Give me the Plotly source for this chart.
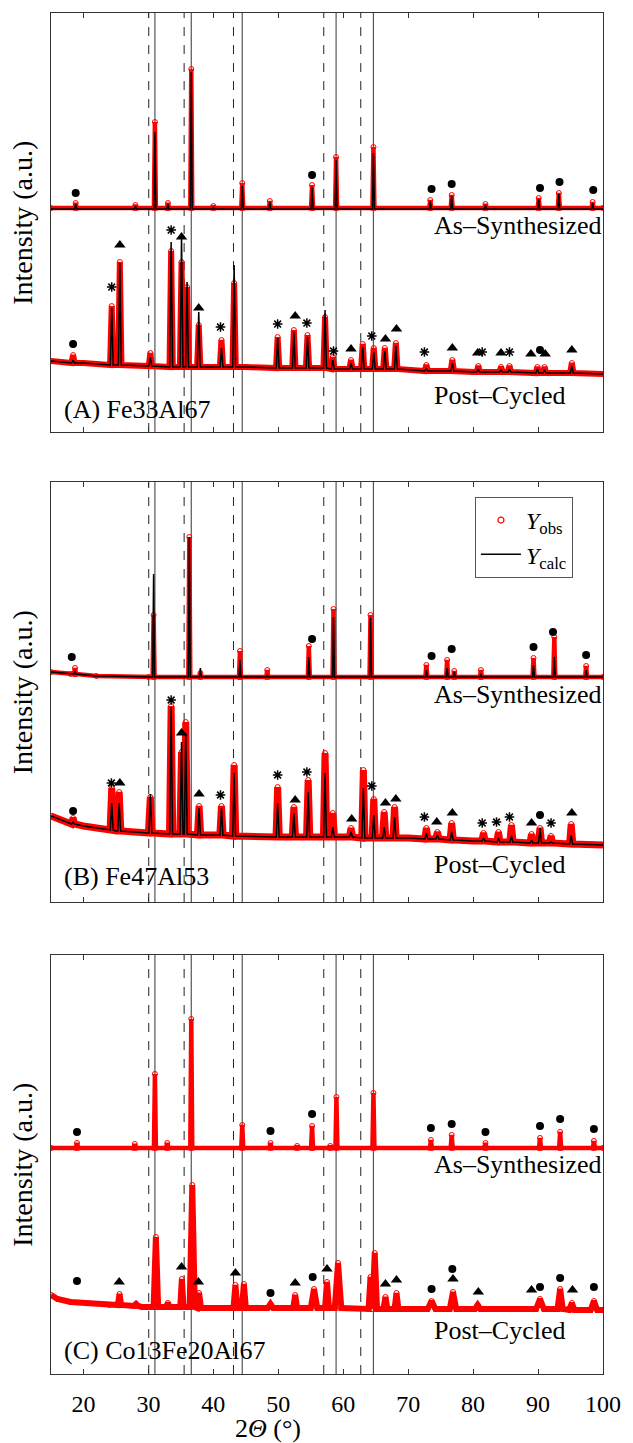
import plotly.graph_objects as go

# ---------------- data ----------------
# reference lines (2-theta, degrees)
ref_dashed = [30.05, 35.5, 43.1, 57.0, 62.7]
ref_solid = [31.0, 36.6, 44.45, 58.9, 64.65]

# ---- Panel A : Fe33Al67 ----
A_syn_bg_x = [15, 100]
A_syn_bg_y = [224, 224]
A_syn_pk_x = [18.8, 28.0, 31.0, 33.0, 36.6, 40.0, 44.45, 48.7, 55.2, 58.9, 64.65, 73.4, 76.7, 81.9, 90.1, 93.2, 98.4]
A_syn_obs = [229, 227, 310, 229, 363, 226, 249, 231, 247, 275, 285, 232, 237, 228, 234, 239, 230]
A_syn_calc = [228, 226, 300, 228, 360, 225, 246, 230, 245, 272, 279, 231, 236, 227, 233, 238, 229]
A_syn_base = 224

A_post_bg_x = [15, 20, 30, 45, 60, 80, 100]
A_post_bg_y = [71, 69, 66, 65, 63, 60, 58]
A_post_pk_x = [18.4, 24.35, 25.6, 30.3, 33.5, 35.1, 35.95, 37.75, 41.25, 43.2, 49.9, 52.4, 54.5, 57.2, 58.4,
               61.2, 63.0, 64.7, 66.4, 68.1, 72.8, 76.8, 80.8, 84.3, 85.6, 89.9, 91.0, 95.2]
A_post_obs = [77, 126, 170, 79, 181, 170, 145, 107, 92, 149, 95, 102, 97, 115, 75,
              72, 88, 84, 84, 89, 67, 72, 66, 65, 66, 65, 65, 69]
A_post_calc = [72, 124, 169, 75, 190, 196, 150, 120, 84, 167, 94, 100, 95, 122, 72,
               69, 85, 80, 81, 86, 64, 69, 63, 62, 63, 63, 62, 66]
A_post_base = [69, 67, 67, 66, 65, 65, 65, 65, 65, 65, 64, 64, 64, 64, 63,
               63, 63, 63, 63, 63, 61, 61, 60, 60, 60, 59, 59, 59]

A_circ_x = [18.8, 55.2, 73.6, 76.7, 90.3, 93.3, 98.5, 18.4, 90.3]
A_circ_y = [239, 257, 243, 248, 244, 250, 242, 88, 82]
A_tri_x = [25.6, 35.1, 37.75, 52.6, 61.2, 66.5, 68.2, 76.8, 80.7, 84.3, 88.9, 91.1, 95.2]
A_tri_y = [187, 195, 124, 116, 83, 93, 103, 84, 79, 79, 78, 78, 82]
A_ast_x = [24.35, 33.5, 41.1, 49.9, 54.4, 58.5, 64.4, 72.5, 81.4, 85.6]
A_ast_y = [145, 202, 105, 108, 109, 81, 96, 80, 80, 80]

# ---- Panel B : Fe47Al53 ----
B_syn_bg_x = [15, 18, 22, 30, 100]
B_syn_bg_y = [230, 228, 226, 225, 225]
B_syn_pk_x = [18.7, 30.8, 36.3, 38.0, 44.1, 48.3, 54.7, 58.5, 64.2, 72.8, 76.0, 77.1, 81.2, 89.3, 92.5, 97.4]
B_syn_obs = [234, 287, 365, 229, 251, 232, 256, 293, 287, 237, 242, 231, 232, 244, 265, 236]
B_syn_calc = [231, 328, 365, 234, 242, 227, 245, 285, 284, 232, 234, 230, 228, 237, 245, 232]
B_syn_base = [228, 225, 225, 225, 225, 225, 225, 225, 225, 225, 225, 225, 225, 225, 225, 225]

B_post_bg_x = [15, 17, 20, 25, 30, 40, 50, 60, 70, 80, 90, 100]
B_post_bg_y = [86, 81, 76, 71, 69, 67, 65, 65, 64, 61, 59, 57]
B_post_pk_x = [18.4, 24.35, 25.5, 30.3, 33.5, 35.1, 35.75, 37.8, 41.25, 43.2, 49.9, 52.4, 54.6, 57.2, 58.4,
               61.2, 63.1, 64.7, 66.3, 67.9, 72.8, 74.5, 76.7, 81.6, 83.9, 85.9, 89.0, 90.3, 92.0, 95.1]
B_post_obs = [84, 114, 110, 105, 196, 150, 180, 96, 96, 137, 115, 95, 122, 149, 89,
              74, 132, 103, 90, 95, 74, 70, 79, 69, 70, 77, 68, 74, 66, 78]
B_post_calc = [80, 99, 99, 108, 195, 160, 169, 94, 94, 129, 99, 89, 110, 129, 75,
               70, 114, 87, 75, 85, 69, 67, 70, 64, 64, 66, 62, 74, 60, 67]
B_post_base = [78, 72, 71, 69, 68, 68, 68, 67, 67, 66, 65, 65, 65, 65, 65,
               65, 64, 64, 64, 64, 63, 63, 62, 61, 60, 60, 59, 59, 59, 58]

B_circ_x = [18.2, 55.2, 73.6, 76.7, 89.3, 92.3, 97.4, 18.4, 90.3]
B_circ_y = [245, 263, 246, 253, 255, 270, 247, 91, 87]
B_tri_x = [25.6, 35.1, 37.8, 52.6, 61.3, 66.5, 68.1, 74.4, 76.8, 89.0, 95.2]
B_tri_y = [119, 169, 108, 102, 83, 99, 103, 80, 89, 79, 89]
B_ast_x = [24.3, 33.5, 41.1, 49.9, 54.4, 64.4, 72.5, 81.4, 83.6, 85.6, 92.0]
B_ast_y = [119, 202, 107, 127, 130, 116, 85, 79, 80, 85, 79]

# ---- Panel C : Co13Fe20Al67 ----
C_syn_bg_x = [15, 100]
C_syn_bg_y = [226, 226]
C_syn_pk_x = [19.0, 27.9, 31.0, 32.9, 36.6, 44.45, 48.8, 52.9, 55.2, 58.0, 58.95, 64.65, 73.5, 76.7, 81.9, 90.3, 93.4, 98.6]
C_syn_obs = [231, 230, 300, 231, 355, 249, 231, 228, 248, 228, 277, 281, 234, 239, 231, 236, 242, 233]
C_syn_base = 226

C_post_bg_x = [15, 16, 18, 24, 29, 34, 40, 50, 60, 70, 80, 90, 100]
C_post_bg_y = [79, 75, 72, 69, 67, 67, 66, 66, 66, 65, 65, 65, 64]
C_post_pk_x = [25.55, 28.1, 31.15, 33.0, 35.15, 36.75, 37.8, 43.4, 44.7, 48.8, 52.6, 55.5, 57.5, 59.2,
               64.2, 64.85, 66.5, 68.2, 73.6, 76.9, 80.7, 90.3, 93.4, 95.2, 98.6]
C_post_obs = [80, 70, 137, 71, 95, 189, 81, 89, 90, 70, 79, 85, 92, 111,
              97, 121, 77, 81, 73, 82, 69, 75, 85, 71, 73]
C_post_hw = [0.25, 0.3, 0.35, 0.3, 0.25, 0.4, 0.3, 0.3, 0.3, 0.4, 0.3, 0.5, 0.3, 0.5,
             0.3, 0.35, 0.3, 0.3, 0.6, 0.5, 0.4, 0.6, 0.4, 0.4, 0.5]
C_post_base = [69, 68, 67, 67, 67, 67, 66, 66, 66, 66, 66, 66, 66, 66,
               65, 65, 65, 65, 65, 65, 65, 65, 65, 64, 64]

C_circ_x = [19.0, 48.8, 55.2, 73.5, 76.7, 81.9, 90.3, 93.4, 98.6, 19.0, 48.8, 55.3, 73.6, 76.8, 90.3, 93.4, 98.6]
C_circ_y = [242, 243, 260, 246, 250, 242, 248, 255, 245, 93, 81, 97, 85, 105, 87, 96, 87]
C_tri_x = [25.5, 35.1, 37.7, 43.4, 52.6, 57.5, 66.5, 68.2, 76.9, 80.8, 89.0, 95.3]
C_tri_y = [92, 107, 92, 101, 91, 105, 90, 94, 95, 82, 84, 84]

x_ticks = [20, 30, 40, 50, 60, 70, 80, 90, 100]
panel_titles = ["(A) Fe33Al67", "(B) Fe47Al53", "(C) Co13Fe20Al67"]

# ---------------- helpers ----------------
FONT = "Liberation Serif"
RED = "#ff0000"


def profile(bg_x, bg_y, pk_x, pk_top, pk_base, pk_hw):
    n = len(pk_x)
    base = pk_base if isinstance(pk_base, list) else [pk_base] * n
    hw = pk_hw if isinstance(pk_hw, list) else [pk_hw] * n
    pts = [(x, y) for x, y in zip(bg_x, bg_y)
           if all(abs(x - p) > h for p, h in zip(pk_x, hw))]
    for p, t, b, h in zip(pk_x, pk_top, base, hw):
        pts += [(p - h, b), (p, t), (p + h, b)]
    pts.sort(key=lambda q: q[0])
    return [q[0] for q in pts], [q[1] for q in pts]


fig = go.Figure()


def add_obs(xs, ys, ax, width):
    fig.add_trace(go.Scatter(
        x=xs, y=ys, mode="lines+markers", xaxis=ax[0], yaxis=ax[1],
        line=dict(color=RED, width=width),
        marker=dict(symbol="circle-open", size=5, color=RED, line=dict(width=1, color=RED)),
        showlegend=False, hoverinfo="skip"))


def add_calc(xs, ys, ax):
    fig.add_trace(go.Scatter(
        x=xs, y=ys, mode="lines", xaxis=ax[0], yaxis=ax[1],
        line=dict(color="black", width=1.5), showlegend=False, hoverinfo="skip"))


def add_symbols(cx, cy, tx, ty, sx, sy, ax):
    fig.add_trace(go.Scatter(x=cx, y=cy, mode="markers", xaxis=ax[0], yaxis=ax[1],
                             marker=dict(symbol="circle", size=8, color="black"),
                             showlegend=False, hoverinfo="skip"))
    fig.add_trace(go.Scatter(x=tx, y=ty, mode="markers", xaxis=ax[0], yaxis=ax[1],
                             marker=dict(symbol="triangle-up", size=10, color="black"),
                             showlegend=False, hoverinfo="skip"))
    if sx:
        fig.add_trace(go.Scatter(x=sx, y=sy, mode="markers", xaxis=ax[0], yaxis=ax[1],
                                 marker=dict(symbol="asterisk-open", size=8, color="black",
                                             line=dict(color="black", width=1.5)),
                                 showlegend=False, hoverinfo="skip"))


AX = [("x", "y"), ("x2", "y2"), ("x3", "y3")]

# Panel A
add_obs(*profile(A_syn_bg_x, A_syn_bg_y, A_syn_pk_x, A_syn_obs, A_syn_base, 0.15), AX[0], 4.5)
add_calc(*profile(A_syn_bg_x, [v - 1 for v in A_syn_bg_y], A_syn_pk_x, A_syn_calc, A_syn_base - 1, 0.15), AX[0])
add_obs(*profile(A_post_bg_x, A_post_bg_y, A_post_pk_x, A_post_obs, A_post_base, 0.25), AX[0], 6)
add_calc(*profile(A_post_bg_x, A_post_bg_y, A_post_pk_x, A_post_calc, A_post_base, 0.22), AX[0])
add_symbols(A_circ_x, A_circ_y, A_tri_x, A_tri_y, A_ast_x, A_ast_y, AX[0])

# Panel B
add_obs(*profile(B_syn_bg_x, B_syn_bg_y, B_syn_pk_x, B_syn_obs, B_syn_base, 0.15), AX[1], 4.5)
add_calc(*profile(B_syn_bg_x, B_syn_bg_y, B_syn_pk_x, B_syn_calc, B_syn_base, 0.15), AX[1])
add_obs(*profile(B_post_bg_x, B_post_bg_y, B_post_pk_x, B_post_obs, B_post_base, 0.25), AX[1], 7)
add_calc(*profile(B_post_bg_x, B_post_bg_y, B_post_pk_x, B_post_calc, B_post_base, 0.22), AX[1])
add_symbols(B_circ_x, B_circ_y, B_tri_x, B_tri_y, B_ast_x, B_ast_y, AX[1])

# Panel C
add_obs(*profile(C_syn_bg_x, C_syn_bg_y, C_syn_pk_x, C_syn_obs, C_syn_base, 0.15), AX[2], 4.5)
add_obs(*profile(C_post_bg_x, C_post_bg_y, C_post_pk_x, C_post_obs, C_post_base, C_post_hw), AX[2], 6)
add_symbols(C_circ_x, C_circ_y, C_tri_x, C_tri_y, [], [], AX[2])

# legend entries
fig.add_trace(go.Scatter(x=[None], y=[None], mode="markers", xaxis="x2", yaxis="y2",
                         name="<i>Y</i><sub>obs</sub>",
                         marker=dict(symbol="circle-open", size=6, color=RED, line=dict(width=1.2))))
fig.add_trace(go.Scatter(x=[None], y=[None], mode="lines", xaxis="x2", yaxis="y2",
                         name="<i>Y</i><sub>calc</sub>", line=dict(color="black", width=1.5)))

# reference lines
shapes = []
for xa, ya in AX:
    for xv in ref_dashed:
        shapes.append(dict(type="line", xref=xa, yref=ya + " domain", x0=xv, x1=xv, y0=0, y1=1,
                           line=dict(color="#222", width=1, dash="dash"), layer="below"))
    for xv in ref_solid:
        shapes.append(dict(type="line", xref=xa, yref=ya + " domain", x0=xv, x1=xv, y0=0, y1=1,
                           line=dict(color="#555", width=1.2), layer="below"))

# axes
domains = [[0.6921, 1.0], [0.3468, 0.6554], [0.0, 0.3079]]
yranges = [[0, 419], [0, 420], [0, 419]]
xcommon = dict(range=[15, 100], tickvals=x_ticks, ticks="inside", ticklen=5, tickcolor="#333",
               showline=True, linecolor="#333", linewidth=1, mirror="ticks",
               showgrid=False, zeroline=False,
               tickfont=dict(family=FONT, size=24, color="black"))
ycommon = dict(showline=True, linecolor="#333", linewidth=1, mirror=True, ticks="",
               showticklabels=False, showgrid=False, zeroline=False)

layout = dict(
    width=633, height=1443,
    margin=dict(l=51, r=22, t=13, b=69),
    paper_bgcolor="white", plot_bgcolor="white",
    font=dict(family=FONT, size=24, color="black"),
    shapes=shapes,
    legend=dict(x=0.768, y=0.6444, xanchor="left", yanchor="top",
                bordercolor="#555", borderwidth=1, bgcolor="white",
                font=dict(family=FONT, size=24), itemwidth=40, tracegroupgap=0),
)
for i, (xa, ya) in enumerate(AX):
    xk = "xaxis" if i == 0 else f"xaxis{i+1}"
    yk = "yaxis" if i == 0 else f"yaxis{i+1}"
    layout[xk] = dict(xcommon, anchor=ya, showticklabels=(i == 2), ticklabelstandoff=8)
    layout[yk] = dict(ycommon, anchor=xa, domain=domains[i], range=yranges[i])

fig.update_layout(**layout)

ann = []
syn_y = [0.494, 0.495, 0.499]
post_y = [0.088, 0.09, 0.103]
lab_y = [0.053, 0.06, 0.057]
for i, (xa, ya) in enumerate(AX):
    ann.append(dict(text="As–Synthesized", xref=xa + " domain", yref=ya + " domain", x=0.69, y=syn_y[i],
                    xanchor="left", yanchor="middle", showarrow=False, font=dict(family=FONT, size=26)))
    ann.append(dict(text="Post–Cycled", xref=xa + " domain", yref=ya + " domain", x=0.69, y=post_y[i],
                    xanchor="left", yanchor="middle", showarrow=False, font=dict(family=FONT, size=26)))
    ann.append(dict(text=panel_titles[i], xref=xa + " domain", yref=ya + " domain", x=0.02, y=lab_y[i],
                    xanchor="left", yanchor="middle", showarrow=False, font=dict(family=FONT, size=26)))
    ann.append(dict(text="Intensity (a.u.)", xref="paper", yref=ya + " domain", x=-0.052, y=0.5,
                    xanchor="center", yanchor="middle", textangle=-90, showarrow=False,
                    font=dict(family=FONT, size=28)))
ann.append(dict(text="2<i>Θ</i> (°)", xref="paper", yref="paper", x=0.394, y=-0.0397,
                xanchor="center", yanchor="middle", showarrow=False, font=dict(family=FONT, size=26)))
fig.update_layout(annotations=ann)

fig.write_html("out.html")
